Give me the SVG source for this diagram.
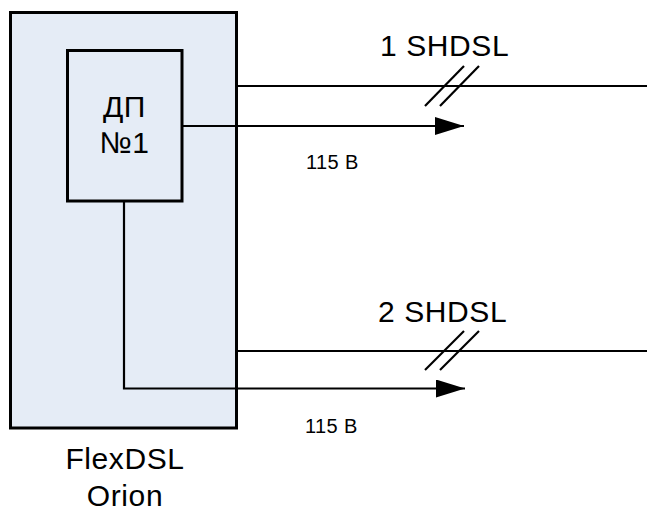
<svg xmlns="http://www.w3.org/2000/svg" width="647" height="513" viewBox="0 0 647 513">
<defs>
<style>
.box{fill:#E5ECF6;stroke:#000;stroke-width:3}
.ln{fill:none;stroke:#000;stroke-width:2.2}
.t{font-family:"Liberation Sans",Arial,sans-serif;fill:#000}
.big{font-size:30px;letter-spacing:0.6px}
.sm{font-size:20px;letter-spacing:0.4px}
</style>
<marker id="arr" viewBox="0 0 29 18" refX="29" refY="9" markerWidth="29" markerHeight="18" markerUnits="userSpaceOnUse" orient="auto">
<path d="M0,0 L29,9 L0,18 Z" fill="#000"/>
</marker>
</defs>
<rect width="647" height="513" fill="#fff"/>
<g id="orion">
<rect class="box" x="10.5" y="12.5" width="226" height="415.5"/>
<text class="t big" x="125" y="469" text-anchor="middle">FlexDSL</text>
<text class="t big" x="125" y="506" text-anchor="middle">Orion</text>
</g>
<g id="dp1">
<rect class="box" x="67.5" y="50.5" width="114.5" height="150.5"/>
<text class="t big" x="124.5" y="117" text-anchor="middle">ДП</text>
<text class="t big" x="124.5" y="153" text-anchor="middle">№1</text>
</g>
<g id="connectors">
<line class="ln" x1="237" y1="86" x2="647" y2="86"/>
<line class="ln" x1="425" y1="106" x2="464" y2="66"/>
<line class="ln" x1="440" y1="106" x2="479" y2="66"/>
<line class="ln" x1="182" y1="126" x2="464" y2="126" marker-end="url(#arr)"/>
<line class="ln" x1="237" y1="351" x2="647" y2="351"/>
<line class="ln" x1="425" y1="370" x2="464" y2="331"/>
<line class="ln" x1="440" y1="370" x2="479" y2="331"/>
<polyline class="ln" points="124,201 124,388.5 465,388.5" marker-end="url(#arr)"/>
</g>
<g id="labels">
<text class="t big" x="380" y="56">1 SHDSL</text>
<text class="t sm" x="306" y="169">115 В</text>
<text class="t big" x="378" y="322">2 SHDSL</text>
<text class="t sm" x="305" y="433">115 В</text>
</g>
</svg>
